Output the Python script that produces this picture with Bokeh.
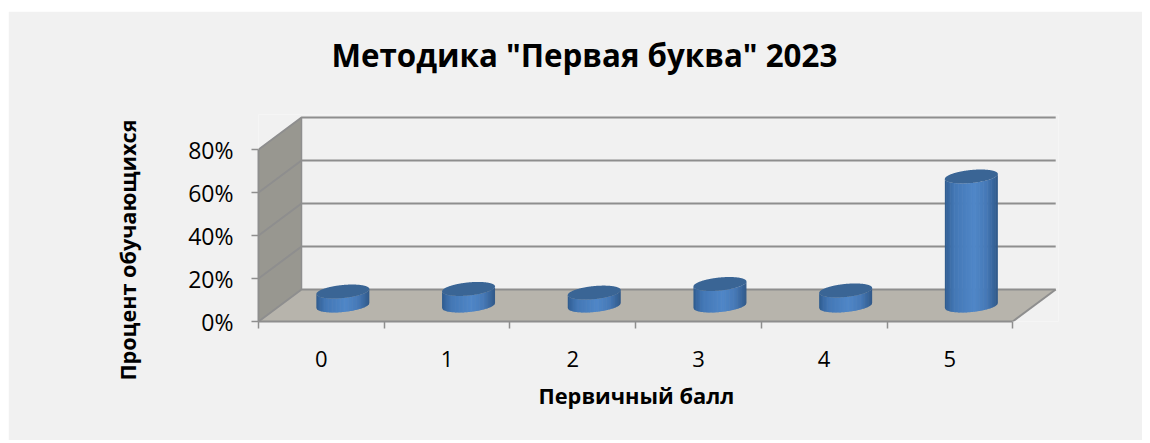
import numpy as np
from bokeh.embed import file_html
from bokeh.resources import INLINE
from bokeh.plotting import figure
from bokeh.models import FixedTicker, PrintfTickFormatter, Title

categories = ["0", "1", "2", "3", "4", "5"]
values = [6.5, 7.7, 6.0, 10.0, 7.0, 60.0]
y_ticks = [0, 20, 40, 60, 80]
title_text = 'Методика "Первая буква" 2023'
x_label = "Первичный балл"
y_label = "Процент обучающихся"

PANEL = "#f1f1f1"
GRID = "#8e8e8e"
WALL = "#989790"
FLOOR = "#b7b4ac"
TOP = "#3a6595"
FONT = "Open Sans"

PX_X, PX_Y = 125.7, 2.15
DEPTH_X, DEPTH_Y = 43 / PX_X, 32 / PX_Y
FRAME_L, FRAME_R, FRAME_T, FRAME_B = 258, 1058, 114, 321
PANEL_L, PANEL_T, PANEL_R, PANEL_B = 8, 11, 1142, 440
W, H = PANEL_R - PANEL_L, PANEL_B - PANEL_T
x0, x1 = -0.5, -0.5 + (FRAME_R - FRAME_L) / PX_X
y0, y1 = 0, (FRAME_B - FRAME_T) / PX_Y

p = figure(width=W, height=H, output_backend="svg", toolbar_location=None,
           x_range=(x0, x1), y_range=(y0, y1),
           background_fill_color=PANEL, border_fill_color=PANEL,
           min_border_left=FRAME_L - PANEL_L, min_border_right=PANEL_R - FRAME_R,
           min_border_top=FRAME_T - PANEL_T, min_border_bottom=PANEL_B - FRAME_B,
           frame_width=FRAME_R - FRAME_L, frame_height=FRAME_B - FRAME_T)
p.outline_line_color = None
p.grid.visible = False
p.margin = (PANEL_T, 0, 0, PANEL_L)

left, right = -0.5, 5.5
top = max(y_ticks)
p.patch([left, left, left + DEPTH_X, left + DEPTH_X], [0, top, top + DEPTH_Y, DEPTH_Y],
        fill_color=WALL, line_color=None)
p.patch([left, right, right + DEPTH_X, left + DEPTH_X], [0, 0, DEPTH_Y, DEPTH_Y],
        fill_color=FLOOR, line_color=None)
for t in y_ticks:
    p.line([left, left + DEPTH_X, right + DEPTH_X], [t, t + DEPTH_Y, t + DEPTH_Y],
           line_color=GRID, line_width=2)
p.line([left + DEPTH_X, left + DEPTH_X], [DEPTH_Y, top + DEPTH_Y], line_color=GRID, line_width=1.5)
p.line([right, right + DEPTH_X], [0, DEPTH_Y], line_color=GRID, line_width=2)

stops = [0, .05, .18, .55, .78, .92, 1]
cols = np.array([[0x2f, 0x5a, 0x8c], [0x36, 0x66, 0x9e], [0x44, 0x78, 0xb6], [0x50, 0x87, 0xc8],
                 [0x47, 0x7a, 0xb8], [0x38, 0x65, 0x9b], [0x31, 0x58, 0x88]], float)
t = np.linspace(0, 2 * np.pi, 361)
hw = 26.5
dy = 7.0
dx = dy * 43 / 32
rx = np.sqrt(hw ** 2 - dx ** 2)
ex = rx * np.cos(t) + dx * np.sin(t)
ey = dy * np.sin(t)
N = 40
edges = np.linspace(-hw, hw, N + 1)


def lower_curve(xs):
    a = np.arctan2(dx, rx)
    c = np.clip(xs / hw, -1, 1)
    return dy * np.sin(-np.arccos(c) + a)


xs_list, ys_list, col_list = [], [], []
tops_x, tops_y = [], []
for i, v in enumerate(values):
    cx = i + DEPTH_X / 2
    base = DEPTH_Y / 2
    for k in range(N):
        l, r = edges[k], edges[k + 1] + (0.6 if k < N - 1 else 0)
        xx = np.linspace(l, r, 4)
        lc = lower_curve(xx) / PX_Y
        frac = (k + .5) / N
        c = [np.interp(frac, stops, cols[:, j]) for j in range(3)]
        xs_list.append(list(cx + xx / PX_X) + list(cx + xx[::-1] / PX_X))
        ys_list.append(list(base + lc) + list(base + v + lc[::-1]))
        col_list.append("#%02x%02x%02x" % tuple(int(n) for n in c))
    tops_x.append(cx + ex / PX_X)
    tops_y.append(base + v + ey / PX_Y)

p.patches(xs_list, ys_list, fill_color=col_list, line_color=None)
p.patches(tops_x, tops_y, fill_color=TOP, line_color=None)

xa = p.xaxis[0]
xa.ticker = FixedTicker(ticks=list(range(len(categories))),
                        minor_ticks=[i - 0.5 for i in range(len(categories) + 1)])
xa.major_label_overrides = {i: c for i, c in enumerate(categories)}
xa.bounds = (left, right)
xa.axis_line_color = GRID
xa.axis_line_width = 2
xa.major_tick_line_color = None
xa.minor_tick_line_color = GRID
xa.minor_tick_line_width = 1.5
xa.minor_tick_out = 7
xa.minor_tick_in = 0
xa.major_label_text_font = FONT
xa.major_label_text_font_size = "22px"
xa.major_label_text_color = "#000000"
xa.major_label_standoff = 22

ya = p.yaxis[0]
ya.ticker = FixedTicker(ticks=y_ticks)
ya.formatter = PrintfTickFormatter(format="%d%%")
ya.bounds = (0, top)
ya.axis_line_color = GRID
ya.axis_line_width = 2
ya.major_tick_line_color = GRID
ya.major_tick_line_width = 1.5
ya.major_tick_out = 7
ya.major_tick_in = 0
ya.minor_tick_line_color = None
ya.major_label_text_font = FONT
ya.major_label_text_font_size = "23px"
ya.major_label_text_color = "#000000"
ya.major_label_standoff = 18


def add_title(text, where, size, offset, standoff):
    p.add_layout(Title(text=text, text_font=FONT, text_font_size=size, text_font_style="bold",
                       text_color="#000000", align="left", offset=offset, standoff=standoff),
                 where)


add_title(" ", "above", "1px", 0, 36)
add_title(title_text, "above", "31.3px", 73, 0)
add_title(x_label, "below", "21.8px", 280, 18)
add_title(y_label, "left", "21.6px", -59, 88)

open("out.html", "w").write(file_html(p, INLINE))
